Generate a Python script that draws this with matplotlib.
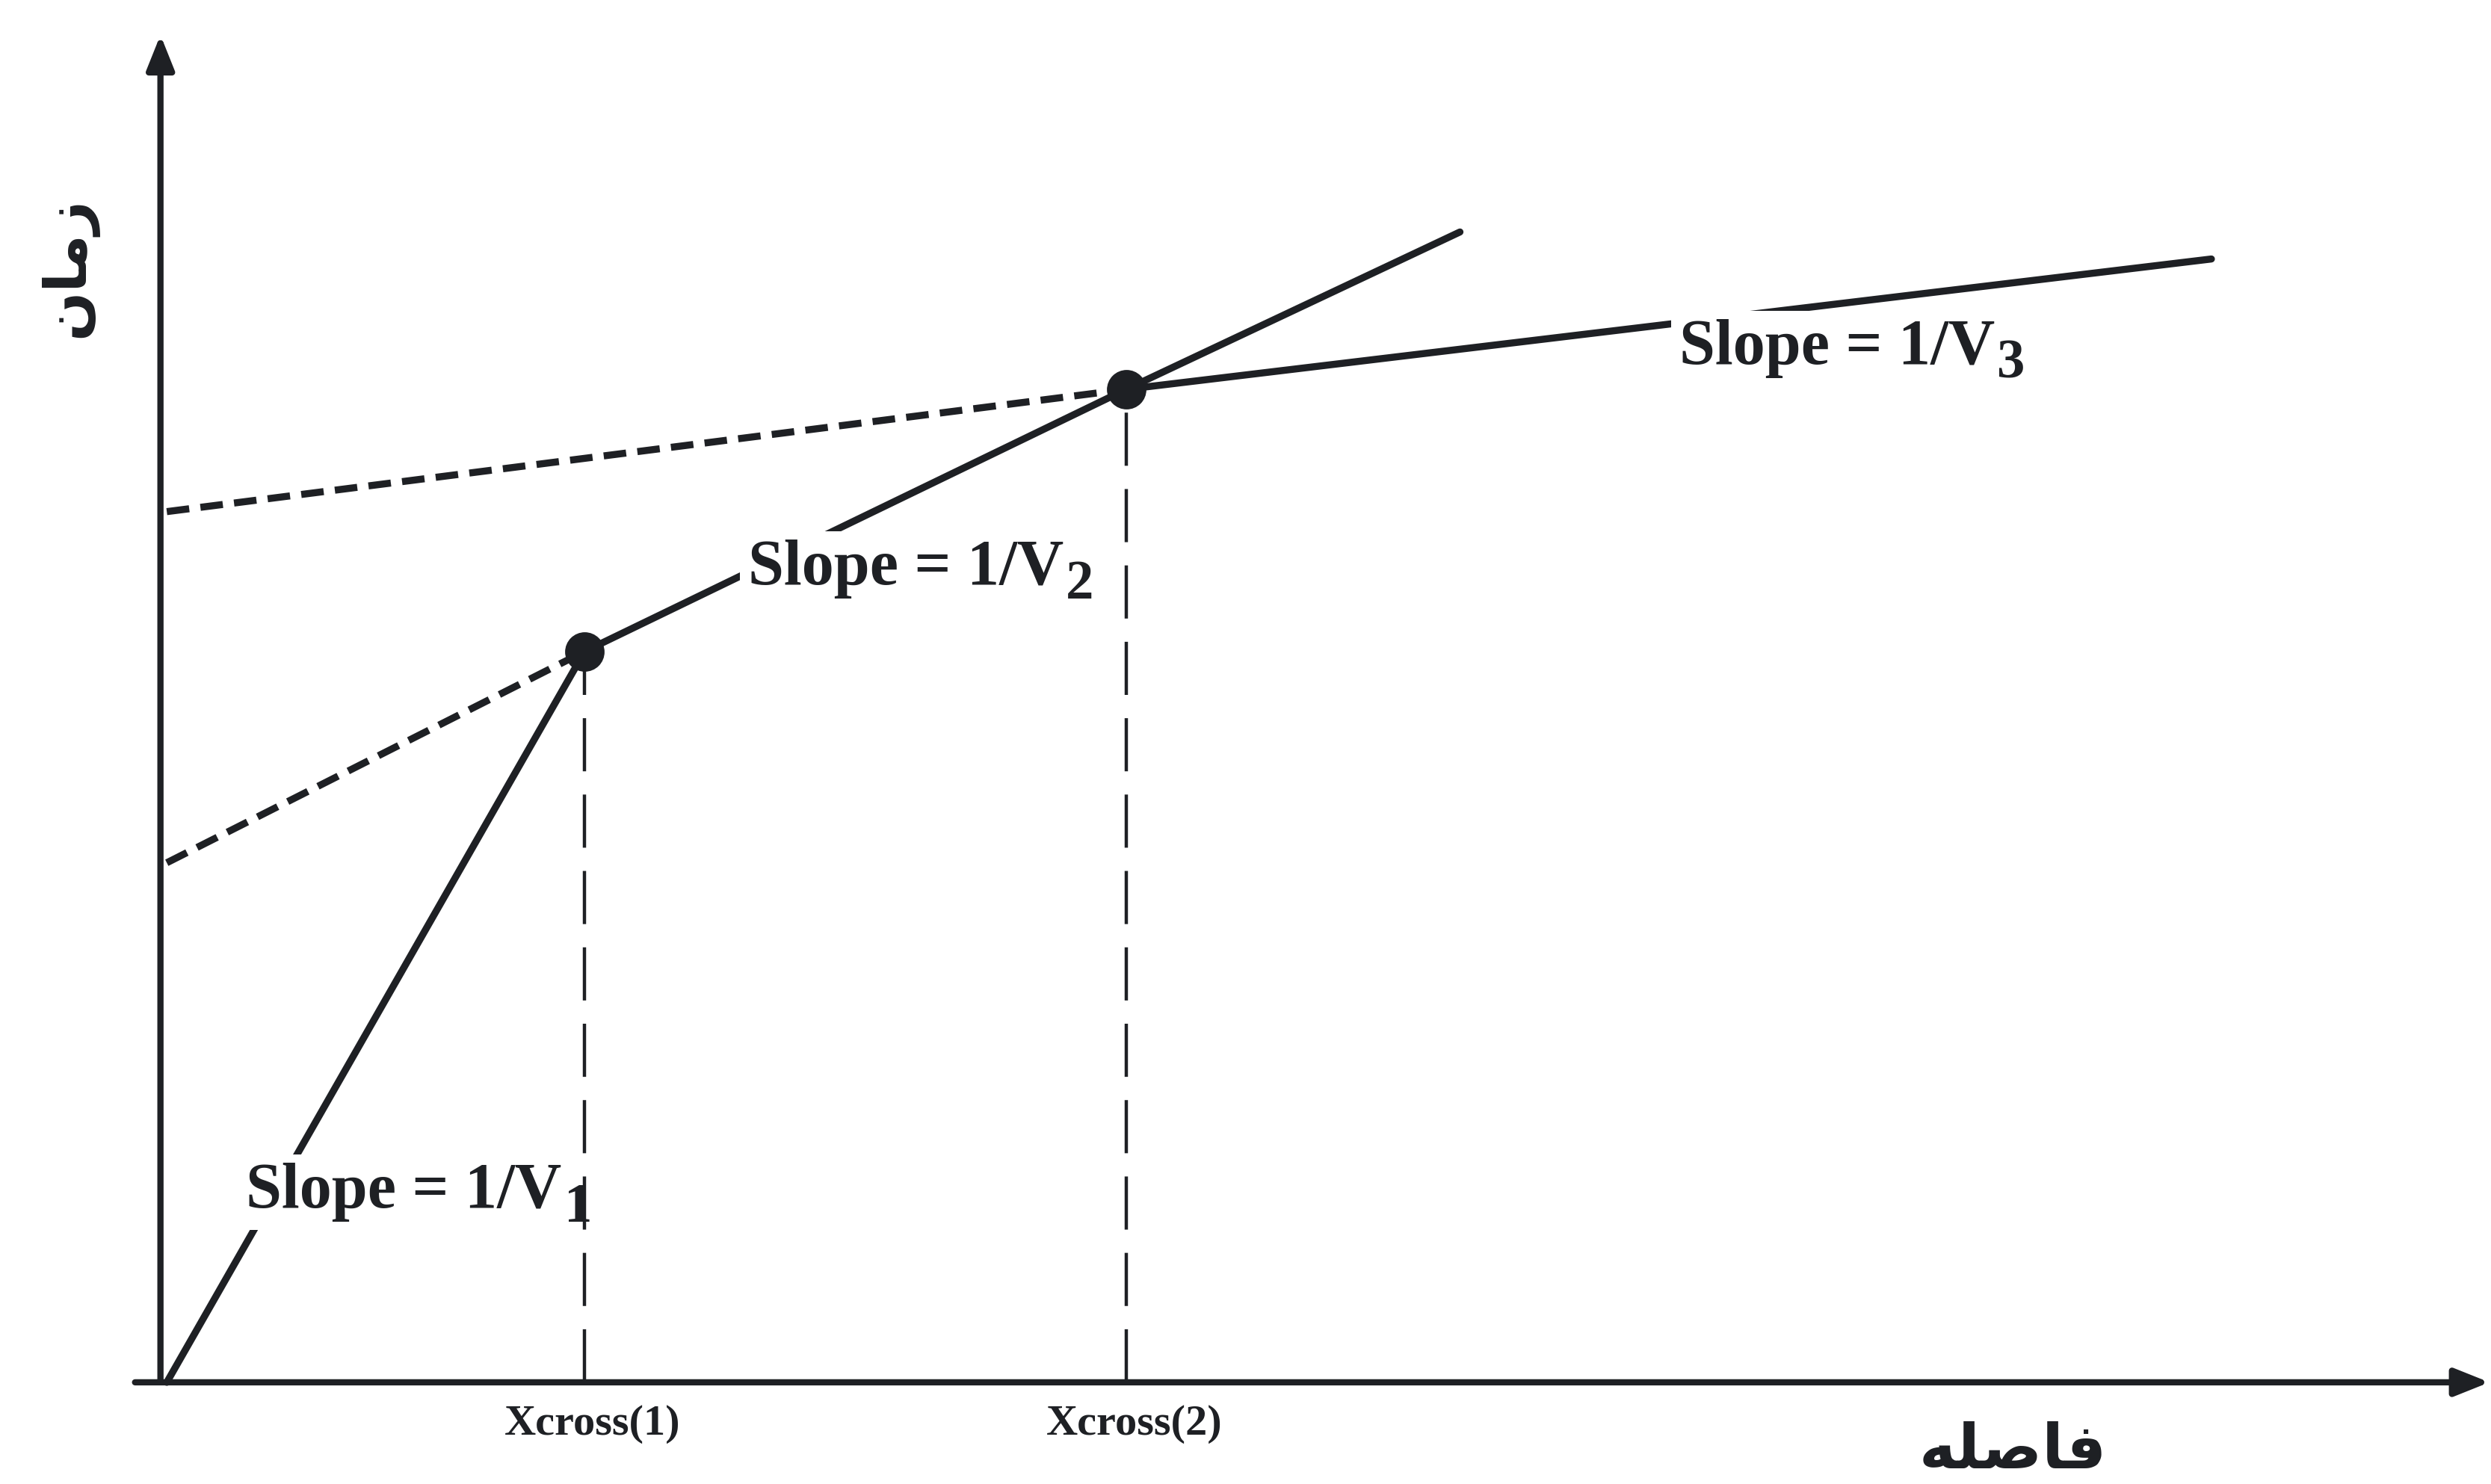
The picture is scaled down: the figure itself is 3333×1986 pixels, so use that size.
import matplotlib.pyplot as plt

# travel-time branches of a three-layer refraction model
xcross = [2.63, 6.04]        # crossover distances
tcross = [4.60, 6.25]        # arrival times at the crossovers
intercepts = [3.27, 5.48]    # intercept times of the 2nd and 3rd branches
x_end = [8.14, 12.87]        # far ends of the 2nd and 3rd branches
t_end = [7.24, 7.07]

slope_text = 'Slope = 1/V'
slope_subs = ['1', '2', '3']
cross_labels = ['Xcross(1)', 'Xcross(2)']

# matplotlib does no Arabic shaping, so the words are written with
# presentation forms in visual (left-to-right) order
xlabel = '\ufeea\ufee0\ufebb\ufe8e\ufed3'   # فاصله
ylabel = '\ufee5\ufe8e\ufee3\ufeaf'         # زمان

ink = '#1e2024'
serif = dict(family='Liberation Serif', weight='bold', color=ink)

fig = plt.figure(figsize=(16.665, 9.93), dpi=200)
ax = fig.add_axes([0, 0, 1, 1])
ax.set_xlim(-1.05, 14.63)
ax.set_ylim(-0.64, 8.70)
ax.axis('off')

# axes drawn as arrows
arrow = dict(arrowstyle='-|>,head_length=0.7,head_width=0.28', mutation_scale=20,
             lw=3, color=ink, shrinkA=0, shrinkB=0)
ax.annotate('', xy=(14.62, 0), xytext=(-0.2, 0), arrowprops=arrow)
ax.annotate('', xy=(-0.04, 8.48), xytext=(-0.04, 0), arrowprops=arrow)

# direct wave, then the two head-wave branches
line = dict(color=ink, lw=3.4, solid_capstyle='round')
ax.plot([0, xcross[0]], [0, tcross[0]], **line)
ax.plot([xcross[0], xcross[1], x_end[0]], [tcross[0], tcross[1], t_end[0]], **line)
ax.plot([xcross[1], x_end[1]], [tcross[1], t_end[1]], **line)

# extrapolation of the head waves back to the time axis
for xc, tc, ti in zip(xcross, tcross, intercepts):
    ax.plot([0, xc], [ti, tc], color=ink, lw=3.4, ls=(0, (3.2, 1.6)))

# crossover distances
ax.vlines(xcross, 0, tcross, color=ink, lw=1.6, linestyles=[(0, (16, 7))])
ax.plot(xcross, tcross, 'o', ms=18, color=ink, zorder=4)

# slope labels with a subscript placed right after each one
label_pos = [(0.50, 1.10), (3.66, 5.02), (9.52, 6.41)]
for (lx, ly), sub in zip(label_pos, slope_subs):
    t = ax.text(lx, ly, slope_text, fontsize=31, ha='left', va='baseline', zorder=5,
                bbox=dict(fc='white', ec='none', pad=4), **serif)
    ax.annotate(sub, xy=(1, 0), xycoords=t, xytext=(1, 0), textcoords='offset points',
                ha='left', va='baseline', fontsize=27, zorder=5, **serif)

for xc, lab in zip(xcross, cross_labels):
    ax.text(xc + 0.05, -0.33, lab, fontsize=21, ha='center', va='baseline', **serif)

ax.text(11.62, -0.43, xlabel, fontsize=30, ha='center', va='center',
        family='DejaVu Sans', weight='bold', color=ink)
ax.text(-0.62, 7.02, ylabel, fontsize=28, rotation=90, ha='center', va='center',
        family='DejaVu Sans', weight='bold', color=ink)

fig.savefig('out.png', dpi=200, facecolor='white')
